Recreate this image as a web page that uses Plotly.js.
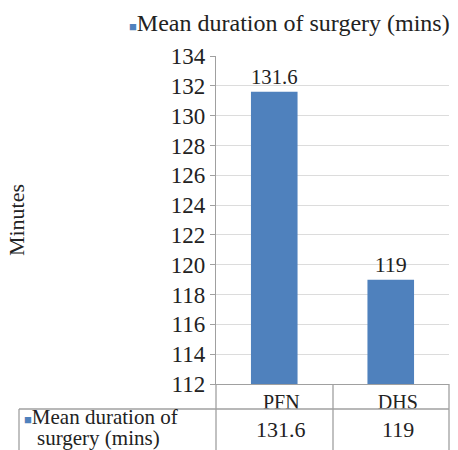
<!DOCTYPE html>
<html><head><meta charset="utf-8">
<script src="https://cdn.plot.ly/plotly-3.0.1.min.js"></script>
<style>html,body{margin:0;padding:0;background:#fff}</style>
</head><body><div id="chart" style="width:458px;height:450px"></div>
<script>
const categories = ["PFN", "DHS"];
const seriesName = "Mean duration of surgery (mins)";
const values = [131.6, 119];
const yTicks = [112,114,116,118,120,122,124,126,128,130,132,134];

const W = 458, H = 450, ML = 216, MR = 9, MT = 56, MB = 66;
const pw = W - ML - MR, ph = H - MT - MB;
const fx = p => (p - ML) / pw;
const fy = p => (H - MB - p) / ph;
const SERIF = "Liberation Serif";
const BLUE = "#4F81BD";
const LINE = "#a0a0a0";
const TXT = "#222222";

const trace = {
  type: "bar", x: categories, y: values, name: seriesName,
  marker: {color: BLUE}, width: 0.4,
  text: values.map(String), textposition: "outside", cliponaxis: false,
  textfont: {family: SERIF, size: 22, color: TXT}
};

const shapes = [];
function line(x0,y0,x1,y1){ shapes.push({type:"line", xref:"paper", yref:"paper",
  x0:fx(x0), y0:fy(y0), x1:fx(x1), y1:fy(y1), line:{color:LINE, width:1.3}}); }
line(19, 409, 449, 409);
line(216, 384, 216, 450);
line(333, 384, 333, 450);
line(449, 384, 449, 450);
line(19, 409, 19, 450);

const annotations = [
  {xref:"paper", yref:"paper", x:fx(127), y:fy(23), xanchor:"left", yanchor:"middle", showarrow:false,
   text:'<span style="color:'+BLUE+';font-size:13px">■</span>'+seriesName, font:{family:SERIF,size:24,color:TXT}},
  {xref:"paper", yref:"paper", x:fx(22), y:fy(417), xanchor:"left", yanchor:"middle", showarrow:false,
   text:'<span style="color:'+BLUE+';font-size:13px">■</span>Mean duration of', font:{family:SERIF,size:21,color:TXT}},
  {xref:"paper", yref:"paper", x:fx(35), y:fy(438), xanchor:"left", yanchor:"middle", showarrow:false,
   text:'surgery (mins)', font:{family:SERIF,size:21,color:TXT}}
];
categories.forEach((c,i)=>{
  annotations.push({xref:"x", yref:"paper", x:c, y:fy(429), xshift:7, yanchor:"middle", showarrow:false,
    text:String(values[i]), font:{family:SERIF,size:22,color:TXT}});
});

const layout = {
  width: W, height: H, margin:{l:ML, r:MR, t:MT, b:MB},
  paper_bgcolor:"#fff", plot_bgcolor:"#fff", showlegend:false, bargap:0.6,
  font:{family:SERIF, size:22, color:TXT},
  xaxis:{type:"category", showline:true, linecolor:LINE, linewidth:1.3, showgrid:false,
    ticks:"", tickfont:{family:SERIF,size:20,color:TXT}, ticklabelshift:7},
  yaxis:{range:[112,134], tickvals:yTicks, ticktext:yTicks.map(String), showline:true, linecolor:LINE, linewidth:1.3,
    gridcolor:"#dcdcdc", gridwidth:1, ticks:"outside", ticklen:5, tickcolor:LINE,
    tickfont:{family:SERIF,size:23,color:TXT}, zeroline:false, automargin:false,
    title:{text:"Minutes", standoff:140, font:{family:SERIF,size:22,color:TXT}}},
  shapes, annotations
};
Plotly.newPlot("chart", [trace], layout, {displayModeBar:false});
</script></body></html>
